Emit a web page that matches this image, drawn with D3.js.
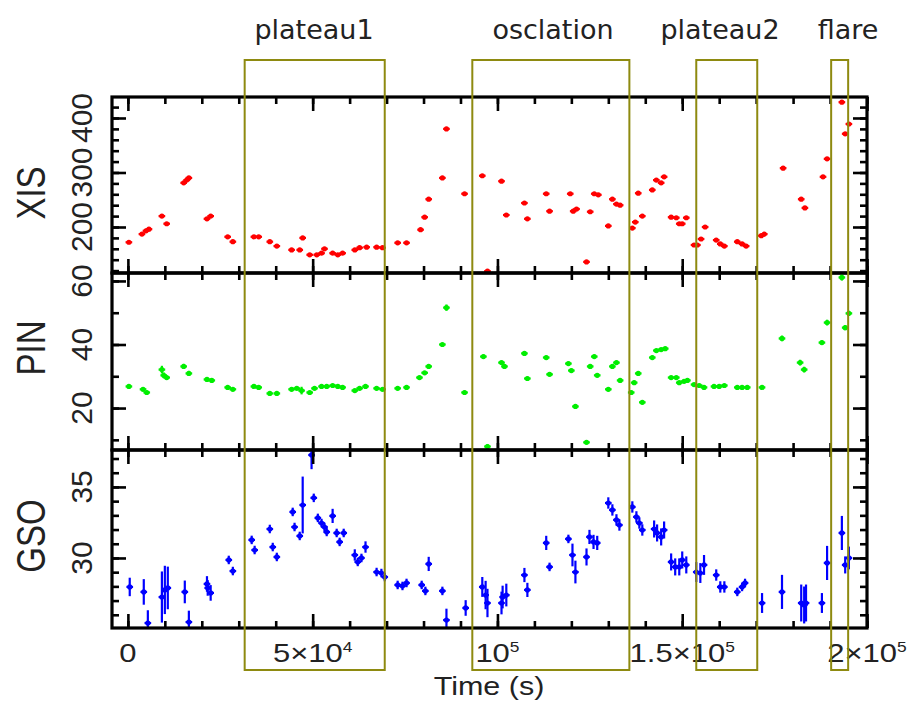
<!DOCTYPE html>
<html lang="en">
<head>
<meta charset="UTF-8">
<title>XIS / PIN / GSO light curve</title>
<style>
  body { margin: 0; background: #fff; }
  svg { display: block; }
</style>
</head>
<body>
<div id="chart-container"></div>
<script src="https://d3js.org/d3.v7.min.js"></script>
<script>
// ---- data (time in s, rates) ----
const xisTime = [270, 3800, 4900, 5700, 9200, 10500, 15100, 15900, 16500, 21400, 22400, 27000, 28400,
  34100, 35400, 38400, 40300, 44300, 46500, 47300, 49200, 51100, 52400, 53200, 55400, 56800, 58100,
  61400, 62700, 64600, 67300, 68900, 73000, 75400, 79200, 80300, 81400, 85100, 86200, 91100, 95900,
  97300, 101100, 102400, 107300, 108100, 113200, 114100, 119700, 120500, 121400, 124100, 125100,
  126200, 127300, 130000, 131100, 132200, 133200, 136500, 137300, 138100, 139200, 141900, 143000,
  144300, 145100, 147000, 148400, 149200, 150000, 151100, 153200, 154100, 155100, 156200, 159200,
  160300, 161400, 164900, 166200, 167300, 171400, 172200, 177300, 182200, 183200, 188100, 189200,
  193200, 194100, 195100];
const xisRate = [172, 187, 193, 196, 220, 206, 281, 286, 290, 215, 220, 182, 173,
  182, 182, 173, 165, 158, 158, 180, 149, 149, 152, 160, 152, 149, 152,
  158, 162, 163, 163, 162, 171, 171, 195, 218, 251, 290, 380, 261, 294,
  119, 284, 222, 244, 215, 261, 229, 261, 229, 233, 136, 228,
  261, 259, 202, 251, 242, 240, 198, 209, 262, 220, 268, 286,
  281, 292, 218, 217, 206, 206, 217, 167, 167, 178, 200, 176,
  169, 165, 173, 169, 165, 184, 187, 308, 251, 235, 292, 325,
  429, 371, 389];

const pinTime = [270, 4100, 5100, 9200, 9700, 10500, 15100, 16500, 21400, 22700, 27000, 28400,
  34100, 35400, 38400, 40300, 44300, 45700, 47000, 49200, 50500, 52400, 53800, 55400, 56800, 58100,
  61400, 62700, 64300, 67300, 68900, 73000, 75400, 78900, 80300, 81400, 85100, 86200, 91100, 96200,
  97300, 101100, 101900, 107300, 108100, 113200, 114100, 119200, 120000, 121100, 124100, 125100,
  126200, 127000, 130000, 131100, 132200, 133200, 136200, 137000, 138100, 139200, 141900, 143000,
  144300, 145400, 147000, 148400, 149200, 150500, 151400, 153200, 154600, 155900, 158600, 160000,
  161400, 164900, 166200, 167600, 171600, 177000, 181900, 183000, 187800, 189200, 193200, 194100,
  195100];
const pinRate = [26.8, 25.9, 24.9, 32.1, 30.3, 29.6, 33.1, 30.9, 29.0, 28.7, 26.5, 25.9,
  26.8, 26.5, 24.6, 24.6, 25.9, 26.2, 25.5, 24.9, 26.2, 26.8, 26.8, 27.1, 26.8, 26.5,
  25.5, 26.2, 26.8, 26.2, 25.9, 26.2, 26.5, 29.6, 31.1, 33.1, 40.0, 51.6, 24.9, 36.2,
  7.9, 34.3, 33.1, 37.2, 29.3, 35.9, 30.6, 34.0, 31.8, 20.5, 9.2, 33.1,
  36.2, 30.3, 25.9, 33.1, 34.3, 28.7, 24.9, 28.0, 30.9, 21.8, 35.9, 38.1,
  38.4, 38.7, 29.6, 29.6, 28.0, 28.4, 28.7, 27.4, 27.1, 26.5, 26.8, 26.8,
  27.1, 26.5, 26.5, 26.5, 26.5, 41.9, 34.3, 32.1, 40.6, 46.9, 61.1, 45.3,
  49.8];
const pinErr = [0.5, 0.5, 0.6, 1.2, 0.9, 0.6, 0.8, 0.8, 0.5, 0.5, 0.4, 0.4,
  0.4, 0.4, 0.4, 0.4, 0.4, 0.4, 1.2, 0.4, 0.4, 0.4, 0.4, 0.4, 0.4, 0.4,
  0.4, 0.4, 0.4, 0.4, 0.4, 0.4, 0.4, 0.5, 0.5, 0.5, 0.5, 1.0, 0.6, 0.6,
  0.8, 0.6, 0.6, 0.6, 0.6, 0.6, 0.6, 0.6, 0.6, 0.6, 0.6, 0.6,
  0.6, 0.6, 0.6, 0.6, 0.6, 0.6, 0.6, 0.6, 0.6, 0.6, 0.6, 0.5,
  0.5, 0.5, 0.5, 0.5, 0.5, 0.5, 0.5, 0.5, 0.5, 0.5, 0.4, 0.4,
  0.4, 0.4, 0.4, 0.4, 0.5, 0.9, 0.9, 0.9, 0.7, 0.9, 1.0, 0.8,
  0.8];

const gsoTime = [500, 4300, 5400, 9200, 10000, 10800, 15400, 16500, 21400, 21600, 22400, 27300, 28400,
  33500, 34300, 38400, 39200, 40300, 44600, 45100, 46500, 47300, 49700, 50300, 51400, 52400, 53200,
  53800, 55400, 56500, 57300, 58400, 61400, 62200, 63200, 64300, 67300, 68600, 69500, 73000, 74300,
  75400, 79500, 80500, 81400, 85100, 86200, 91400, 95900, 96800, 97300, 101100, 101400, 102400,
  107300, 108100, 113200, 114100, 119200, 120300, 121100, 124100, 124900, 126000, 127000, 130000,
  131100, 132200, 133000, 136500, 137600, 138400, 139200, 142400, 143200, 144300, 145100, 147000,
  148100, 149200, 150000, 151100, 153800, 154900, 155900, 159200, 160300, 161400, 164900, 166200,
  167000, 171600, 177000, 182200, 183000, 183500, 187800, 189200, 193200, 194100, 195100];
const gsoRate = [27.96, 27.61, 25.42, 27.25, 27.75, 27.89, 27.61, 25.49, 28.17, 27.89, 27.54, 29.86, 29.08,
  31.27, 30.56, 32.04, 30.77, 30.07, 33.24, 32.18, 31.55, 33.73, 37.25, 34.23, 32.82, 32.46, 32.18,
  31.83, 32.96, 31.76, 31.13, 31.76, 30.21, 29.72, 30.0, 30.77, 29.01, 28.94, 28.66, 28.1, 28.03,
  28.24, 28.1, 27.68, 29.58, 27.68, 25.63, 26.48, 27.96, 27.39, 26.83, 26.83, 27.25, 27.39,
  28.8, 27.75, 31.06, 29.37, 31.34, 30.21, 29.01, 30.07, 31.48, 31.13, 31.06, 33.87,
  33.38, 32.68, 32.32, 33.59, 32.89, 32.46, 31.97, 32.04, 31.76, 31.48, 31.97, 29.72,
  29.37, 29.37, 29.86, 29.51, 29.01, 28.94, 29.51, 28.8, 27.96, 27.96, 27.61, 27.96,
  28.24, 26.83, 27.61, 26.83, 26.69, 26.83, 26.83, 29.65, 31.76, 29.51, 30.0];
const gsoErr = [0.65, 0.9, 0.9, 1.8, 1.7, 1.5, 0.8, 0.8, 0.55, 0.55, 0.55, 0.3, 0.3,
  0.3, 0.3, 0.3, 0.3, 0.3, 0.3, 0.3, 0.3, 2.0, 1.0, 0.3, 0.3, 0.3, 0.3,
  0.3, 0.5, 0.3, 0.3, 0.3, 0.4, 0.3, 0.3, 0.4, 0.3, 0.3, 0.3, 0.3, 0.3,
  0.3, 0.3, 0.3, 0.5, 0.3, 0.8, 0.55, 0.7, 1.0, 1.0, 0.8, 0.8, 0.8,
  0.5, 0.5, 0.5, 0.3, 0.3, 0.8, 0.8, 0.6, 0.5, 0.5, 0.5, 0.4,
  0.4, 0.4, 0.4, 0.4, 0.4, 0.4, 0.4, 0.6, 0.6, 0.6, 0.6, 0.6,
  0.6, 0.6, 0.6, 0.6, 0.7, 0.7, 0.7, 0.4, 0.4, 0.4, 0.3, 0.3,
  0.3, 0.7, 1.2, 1.3, 1.3, 1.3, 0.7, 1.2, 1.2, 0.6, 0.8];

// phases marked by the olive boxes
const phaseNames = ["plateau1", "osclation", "plateau2", "flare"];
const phaseStart = [31600, 93200, 153800, 190300];
const phaseEnd = [69500, 135700, 170300, 194900];

// tick labels
const xLabelValues = [0, 50000, 100000, 150000, 200000];
const xLabelMant = ["0", "5×10", "10", "1.5×10", "2×10"];
const xLabelExp = ["", "4", "5", "5", "5"];
const xisTicks = [200, 300, 400];
const pinTicks = [20, 40, 60];
const gsoTicks = [30, 35];

// ---- layout ----
const WIDTH = 911, HEIGHT = 711;
const LEFT = 112, RIGHT = 867;
const BOX_TOP = 60, BOX_BOTTOM = 670;
const BIN_HALF = 900;
const STRETCH = 1.24;

const svg = d3.select("#chart-container").append("svg")
  .attr("width", WIDTH).attr("height", HEIGHT);

const x = d3.scaleLinear().domain([-4300, 200000]).range([LEFT, RIGHT]);

const panels = [
  {name: "XIS", top: 97, bottom: 273, domain: [115.6, 438.5], step: 20, major: 100, ticks: xisTicks,
   labelY: 193, color: "#ff0000", t: xisTime, v: xisRate, e: null},
  {name: "PIN", top: 273, bottom: 450, domain: [6.8, 62.5], step: 10, major: 20, ticks: pinTicks,
   labelY: 348, color: "#00ee00", t: pinTime, v: pinRate, e: pinErr},
  {name: "GSO", top: 450, bottom: 628, domain: [25.07, 37.6], step: 1, major: 5, ticks: gsoTicks,
   labelY: 536, color: "#0000ff", t: gsoTime, v: gsoRate, e: gsoErr}
];

const xMinor = d3.range(0, 200001, 10000);
const xMajor = d3.range(0, 200001, 50000);

panels.forEach((p, i) => {
  const y = d3.scaleLinear().domain(p.domain).range([p.bottom, p.top]);
  const g = svg.append("g");

  const clipId = "clip" + i;
  svg.append("clipPath").attr("id", clipId)
    .append("rect").attr("x", LEFT).attr("y", p.top)
    .attr("width", RIGHT - LEFT).attr("height", p.bottom - p.top);

  // data marks
  const pts = p.t.map((t, k) => ({t: t, v: p.v[k], e: p.e ? p.e[k] : 0}));
  const dg = g.append("g").attr("clip-path", `url(#${clipId})`);
  dg.selectAll(".hbar").data(pts).enter().append("line")
    .attr("x1", d => x(d.t - BIN_HALF)).attr("x2", d => x(d.t + BIN_HALF))
    .attr("y1", d => y(d.v)).attr("y2", d => y(d.v))
    .attr("stroke", p.color).attr("stroke-width", 2.2);
  dg.selectAll(".vbar").data(pts.filter(d => d.e > 0)).enter().append("line")
    .attr("x1", d => x(d.t)).attr("x2", d => x(d.t))
    .attr("y1", d => y(d.v - d.e)).attr("y2", d => y(d.v + d.e))
    .attr("stroke", p.color).attr("stroke-width", 2.2);
  dg.selectAll(".pt").data(pts).enter().append("circle")
    .attr("cx", d => x(d.t)).attr("cy", d => y(d.v)).attr("r", 2.6)
    .attr("fill", p.color);

  // ticks (inward on all four sides)
  const minorY = d3.range(Math.ceil(p.domain[0] / p.step) * p.step, p.domain[1], p.step);
  const majorY = minorY.filter(v => Math.abs(v / p.major - Math.round(v / p.major)) < 1e-6);
  const axes = [
    [d3.axisBottom(x).tickValues(xMinor).tickSize(-7), `translate(0,${p.bottom})`],
    [d3.axisBottom(x).tickValues(xMajor).tickSize(-14), `translate(0,${p.bottom})`],
    [d3.axisTop(x).tickValues(xMinor).tickSize(-7), `translate(0,${p.top})`],
    [d3.axisTop(x).tickValues(xMajor).tickSize(-14), `translate(0,${p.top})`],
    [d3.axisLeft(y).tickValues(minorY).tickSize(-7), `translate(${LEFT},0)`],
    [d3.axisLeft(y).tickValues(majorY).tickSize(-14), `translate(${LEFT},0)`],
    [d3.axisRight(y).tickValues(minorY).tickSize(-7), `translate(${RIGHT},0)`],
    [d3.axisRight(y).tickValues(majorY).tickSize(-14), `translate(${RIGHT},0)`]
  ];
  axes.forEach(([ax, tr]) => {
    const a = g.append("g").attr("transform", tr).call(ax.tickFormat(""));
    a.select(".domain").remove();
    a.selectAll("line").attr("stroke", "#000").attr("stroke-width", 2.6);
  });

  g.append("rect")
    .attr("x", LEFT).attr("y", p.top)
    .attr("width", RIGHT - LEFT).attr("height", p.bottom - p.top)
    .attr("fill", "none").attr("stroke", "#000").attr("stroke-width", 3.2);

  // y tick labels
  g.selectAll(".ylab").data(p.ticks).enter().append("text")
    .attr("transform", d => `translate(92,${y(d)}) rotate(-90)`)
    .attr("text-anchor", "middle")
    .attr("font-family", "Liberation Sans, Arial, sans-serif")
    .attr("font-size", 30)
    .attr("fill", "#222")
    .text(d => d);

  // panel name
  g.append("text")
    .attr("transform", `translate(45,${p.labelY}) scale(${STRETCH},1) rotate(-90)`)
    .attr("text-anchor", "middle")
    .attr("font-family", "Liberation Sans, Arial, sans-serif")
    .attr("font-size", 33)
    .attr("fill", "#222")
    .text(p.name);
});

// x tick labels
const xl = svg.selectAll(".xlab").data(xLabelValues).enter().append("text")
  .attr("transform", d => `translate(${x(d)},662) scale(${STRETCH},1)`)
  .attr("text-anchor", "middle")
  .attr("font-family", "Liberation Sans, Arial, sans-serif")
  .attr("font-size", 25)
  .attr("fill", "#222");
xl.append("tspan").text((d, i) => xLabelMant[i]);
xl.append("tspan").attr("dy", -10).attr("font-size", 14).text((d, i) => xLabelExp[i]);

svg.append("text")
  .attr("transform", `translate(489,695) scale(${STRETCH - 0.02},1)`)
  .attr("text-anchor", "middle")
  .attr("font-family", "Liberation Sans, Arial, sans-serif")
  .attr("font-size", 25)
  .attr("fill", "#222")
  .text("Time (s)");

// phase boxes and names
svg.selectAll(".phase").data(phaseNames).enter().append("rect")
  .attr("x", (d, i) => x(phaseStart[i]))
  .attr("y", BOX_TOP)
  .attr("width", (d, i) => x(phaseEnd[i]) - x(phaseStart[i]))
  .attr("height", BOX_BOTTOM - BOX_TOP)
  .attr("fill", "none")
  .attr("stroke", "#8e8a10")
  .attr("stroke-width", 2);

const nameX = [314, 553, 720, 848];
svg.selectAll(".phasename").data(phaseNames).enter().append("text")
  .attr("x", (d, i) => nameX[i])
  .attr("y", 39)
  .attr("text-anchor", "middle")
  .attr("font-family", "DejaVu Sans, sans-serif")
  .attr("font-size", 27)
  .attr("fill", "#222")
  .text(d => d);
</script>
</body>
</html>
